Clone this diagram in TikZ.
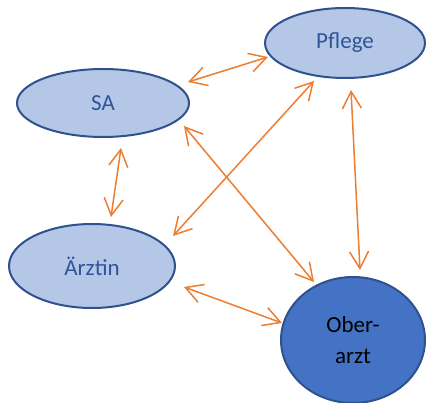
\documentclass[tikz,border=0pt]{standalone}
\usepackage{fontspec}
\setmainfont{Carlito}
\usepackage{tikz}
\usetikzlibrary{
  shapes.geometric,
  arrows.meta,
  positioning
}
\definecolor{RoleFill}{RGB}{180, 199, 231}
\definecolor{RoleLine}{RGB}{47, 82, 143}
\definecolor{RoleText}{RGB}{47, 85, 151}
\definecolor{LeadFill}{RGB}{68, 114, 196}
\definecolor{LinkOrange}{RGB}{237, 125, 49}
\tikzset{
    role/.style={ellipse, draw=RoleLine, line width=2pt, fill=RoleFill, text=RoleText,
        inner sep=0pt, outer sep=0pt, font=\fontsize{23}{31}\selectfont},
    lead/.style={role, fill=LeadFill, text=black, align=center},
    link/.style={draw=LinkOrange, line width=1.5pt, <->,
        >={Straight Barb[length=17pt,width=19pt]}}
}

\begin{document}
\begin{tikzpicture}[x=1pt, y=1pt]
    \useasboundingbox (0,0) rectangle (426,-403);

    \node[role, minimum width=172pt, minimum height=68pt] (sa) at (103,-103) {SA};
    \node[role, minimum width=160pt, minimum height=70pt] (pflege) at (345,-43) {Pflege};
    \node[role, minimum width=166pt, minimum height=84pt] (aerztin) at (92,-266) {Ärztin};
    \node[lead, minimum width=144pt, minimum height=126pt] (oberarzt) at (353,-340) {Ober-\\arzt};

    % Verbindungen
    \draw[link] ([shift={(85,21)}]sa.center) -- ([shift={(-77,-14)}]pflege.center);
    \draw[link] ([shift={(-31,-38)}]pflege.center) -- ([shift={(81,30)}]aerztin.center);
    \draw[link] ([shift={(6,-47)}]pflege.center) -- ([shift={(7,70)}]oberarzt.center);
    \draw[link] ([shift={(81,-23)}]sa.center) -- ([shift={(-39,58)}]oberarzt.center);
    \draw[link] ([shift={(18,-45)}]sa.center) -- ([shift={(19,49)}]aerztin.center);
    \draw[link] ([shift={(92,-21)}]aerztin.center) -- ([shift={(-71,17)}]oberarzt.center);
\end{tikzpicture}
\end{document}
